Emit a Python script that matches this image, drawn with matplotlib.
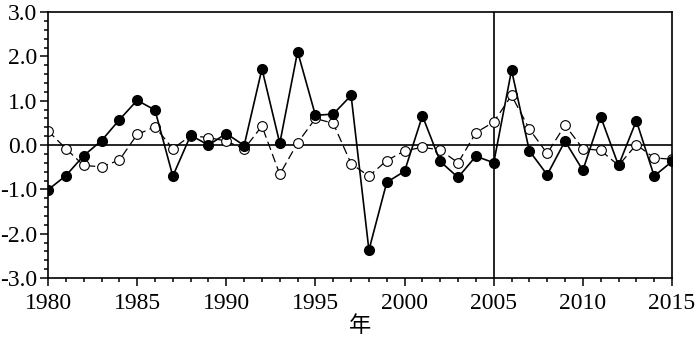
import matplotlib
matplotlib.use("Agg")
import matplotlib.pyplot as plt
from matplotlib.ticker import MultipleLocator
import numpy as np

# years and the two anomaly series
years = np.arange(1980, 2016)
solid_vals = [-1.01, -0.69, -0.24, 0.10, 0.57, 1.01, 0.79, -0.70, 0.22, 0.00,
              0.26, -0.01, 1.72, 0.04, 2.11, 0.67, 0.70, 1.12, -2.37, -0.84,
              -0.59, 0.66, -0.37, -0.73, -0.25, -0.40, 1.69, -0.13, -0.67, 0.09,
              -0.57, 0.64, -0.46, 0.55, -0.70, -0.37]
dash_vals = [0.32, -0.08, -0.46, -0.49, -0.34, 0.24, 0.41, -0.08, 0.21, 0.17,
             0.09, -0.09, 0.43, -0.66, 0.05, 0.60, 0.49, -0.42, -0.70, -0.35,
             -0.13, -0.05, -0.11, -0.40, 0.28, 0.52, 1.12, 0.36, -0.19, 0.45,
             -0.08, -0.12, -0.46, 0.01, -0.29, -0.32]
x_ticks = [1980, 1985, 1990, 1995, 2000, 2005, 2010, 2015]
y_ticks = [-3.0, -2.0, -1.0, 0.0, 1.0, 2.0, 3.0]
split_year = 2005

plt.rcParams['font.family'] = ['Liberation Serif', 'Noto Sans CJK SC']

fig = plt.figure(figsize=(7.0, 3.37), dpi=100)
ax = fig.add_axes([0.0686, 0.175, 0.8914, 0.789])

ax.axhline(0, color='black', lw=1.2, zorder=1)
ax.axvline(split_year, color='black', lw=1.2, zorder=1)

ax.plot(years, dash_vals, color='black', lw=0.9, ls=(0, (7, 3.5)),
        marker='o', ms=7, mfc='white', mec='black', mew=0.8, zorder=2)
ax.plot(years, solid_vals, color='black', lw=1.2, ls='-',
        marker='o', ms=7, mfc='black', mec='black', zorder=3)

ax.set_xlim(1980, 2015)
ax.set_ylim(-3, 3)
ax.set_xticks(x_ticks)
ax.set_xticklabels([str(v) for v in x_ticks])
ax.set_yticks(y_ticks)
ax.set_yticklabels(["%.1f" % v for v in y_ticks])
ax.xaxis.set_minor_locator(MultipleLocator(1))
ax.yaxis.set_minor_locator(MultipleLocator(0.2))

ax.tick_params(which='both', direction='out', top=False, right=False, width=1.1)
ax.tick_params(which='major', length=6, labelsize=17)
ax.tick_params(axis='x', which='major', pad=5)
ax.tick_params(axis='y', which='major', pad=2)
ax.tick_params(which='minor', length=3)
for s in ax.spines.values():
    s.set_linewidth(1.2)

ax.set_xlabel("年", fontsize=16, family=['Noto Sans CJK SC'], labelpad=0)

fig.savefig("out.png", dpi=100)
